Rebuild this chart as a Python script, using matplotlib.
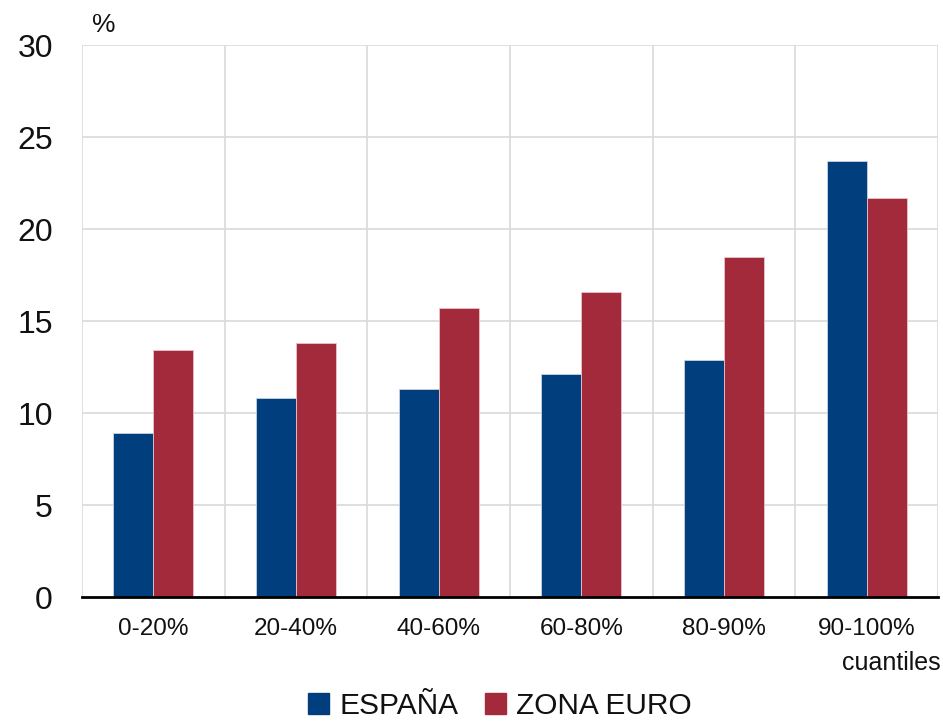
import numpy as np
import matplotlib
matplotlib.use("Agg")
import matplotlib.pyplot as plt
from matplotlib.patches import Patch

plt.rcParams['font.family'] = ['Liberation Sans', 'DejaVu Sans']

categories = ["0-20%", "20-40%", "40-60%", "60-80%", "80-90%", "90-100%"]
espana = [8.9, 10.8, 11.3, 12.1, 12.9, 23.7]
zona_euro = [13.4, 13.8, 15.7, 16.6, 18.5, 21.7]
y_ticks = [0, 5, 10, 15, 20, 25, 30]

BLUE = "#003e7e"
RED = "#a32a3a"
GRID = "#d9d9d9"
TXT = "#111111"

fig = plt.figure(figsize=(9.43, 7.24), dpi=100)
ax = fig.add_axes([0.087, 0.1754, 0.9077, 0.7624])

x = np.arange(len(categories))
w = 0.28
ax.bar(x - w / 2, espana, width=w, color=BLUE, edgecolor="#c8d2e0", linewidth=0.6, zorder=3)
ax.bar(x + w / 2, zona_euro, width=w, color=RED, edgecolor="#e6c4c8", linewidth=0.6, zorder=3)

ax.set_xlim(-0.5, len(categories) - 0.5)
ax.set_ylim(0, 30)
ax.set_yticks(y_ticks)
ax.set_yticklabels([str(v) for v in y_ticks], fontsize=23, color=TXT)

# grid: horizontal every 5, vertical at category boundaries
for v in y_ticks[1:]:
    ax.axhline(v, color=GRID, linewidth=1.2, zorder=0)
for b in np.arange(-0.5, len(categories), 1.0):
    ax.axvline(b, color=GRID, linewidth=1.2, zorder=0)

for s in ["top", "right", "left"]:
    ax.spines[s].set_visible(False)
ax.spines["bottom"].set_linewidth(2)
ax.spines["bottom"].set_color("black")
ax.spines["bottom"].set_zorder(4)

ax.set_xticks(x)
ax.set_xticklabels(categories, fontsize=17.5, color=TXT)
ax.tick_params(axis="both", length=0)
ax.tick_params(axis="x", pad=15)
ax.tick_params(axis="y", pad=21)

fig.text(0.098, 0.965, "%", fontsize=19, ha="left", va="center", color=TXT)
fig.text(0.997, 0.084, "cuantiles", fontsize=18, ha="right", va="center", color=TXT)

handles = [Patch(color=BLUE, label="ESPAÑA"), Patch(color=RED, label="ZONA EURO")]
fig.legend(handles=handles, loc="center", bbox_to_anchor=(0.53, 0.025), ncol=2,
           frameon=False, fontsize=21.5, handlelength=0.7, handleheight=0.7,
           handletextpad=0.35, columnspacing=0.9, labelcolor=TXT,
           borderpad=0.1)

fig.savefig("out.png", dpi=100)
